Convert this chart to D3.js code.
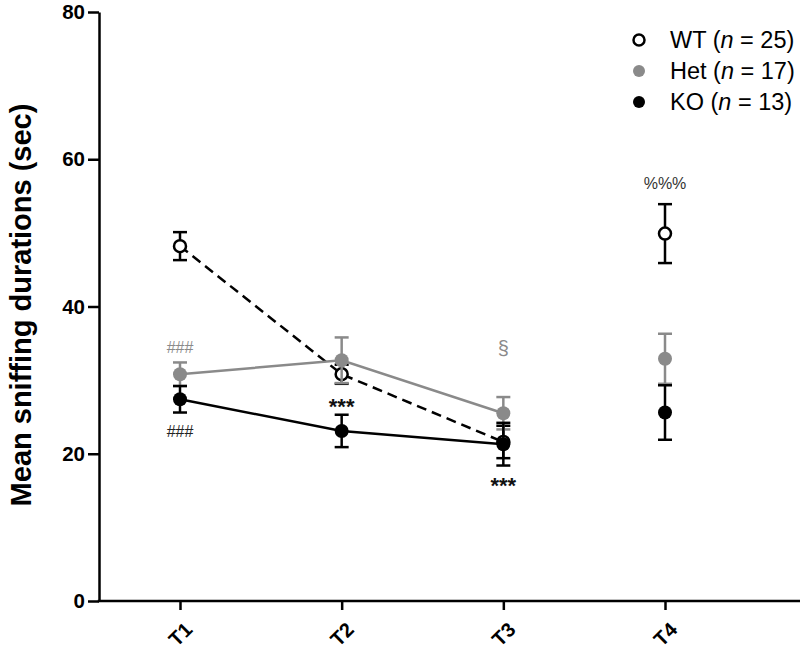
<!DOCTYPE html>
<html><head><meta charset="utf-8">
<script src="https://cdn.jsdelivr.net/npm/d3@7"></script>
<style>body{margin:0;background:#fff}svg{display:block}</style>
</head><body>
<svg id="c" width="800" height="650"></svg>
<script>
const categories = ["T1","T2","T3","T4"];
const yTicks = [0,20,40,60,80];
const wtMean = [48.2, 30.8, 21.6, 49.9];
const wtErr  = [1.9, 1.3, 2.2, 4.0];
const hetMean = [30.8, 32.7, 25.5, 32.9];
const hetErr  = [1.6, 3.1, 2.2, 3.4];
const koMean = [27.4, 23.1, 21.3, 25.6];
const koErr  = [1.8, 2.2, 2.9, 3.7];
const seriesNames = ["WT (n = 25)","Het (n = 17)","KO (n = 13)"];
const annotations = [
  {cat:"T1", value:34.5, text:"###", color:"#8a8a8a", size:16, dy:"0.35em", weight:"normal"},
  {cat:"T1", value:23.1, text:"###", color:"#222", size:16, dy:"0.35em", weight:"normal"},
  {cat:"T2", value:27.2, text:"***", color:"#111", size:22, dy:"0.58em", weight:"bold"},
  {cat:"T3", value:16.4, text:"***", color:"#111", size:22, dy:"0.58em", weight:"bold"},
  {cat:"T3", value:34.3, text:"§", color:"#8a8a8a", size:20, dy:"0.35em", weight:"normal"},
  {cat:"T4", value:56.7, text:"%%%", color:"#333", size:16, dy:"0.35em", weight:"normal"}
];

const FONT = "Liberation Sans, Arial, sans-serif";
const svg = d3.select("#c");
const y = d3.scaleLinear().domain([0,80]).range([601,12]);
const x = d3.scalePoint().domain(categories).range([180,665]);
const axisX0 = 99, axisX1 = 800;

// y axis
const gy = svg.append("g").attr("transform",`translate(${axisX0},0)`)
  .call(d3.axisLeft(y).tickValues(yTicks).tickSize(11).tickPadding(3).tickSizeOuter(0));
gy.select(".domain").attr("stroke","#000").attr("stroke-width",2.5);
gy.selectAll(".tick line").attr("stroke","#000").attr("stroke-width",2.5);
gy.selectAll(".tick text").attr("font-family",FONT)
  .attr("font-size",20.5).attr("font-weight","bold").attr("fill","#000");

// x axis
const gx = svg.append("g").attr("transform",`translate(0,${y(0)})`)
  .call(d3.axisBottom(x).tickSize(9).tickSizeOuter(0));
gx.select(".domain").remove();
svg.append("line").attr("x1",axisX0-1.25).attr("x2",axisX1).attr("y1",y(0)).attr("y2",y(0))
  .attr("stroke","#000").attr("stroke-width",2.5);
gx.selectAll(".tick line").attr("stroke","#000").attr("stroke-width",2.5);
gx.selectAll(".tick text")
  .attr("font-family",FONT).attr("font-size",20).attr("font-weight","bold")
  .attr("fill","#000").attr("text-anchor","end").attr("dy",null).attr("y",0)
  .attr("transform","translate(13,30) rotate(-45)");

// y title
svg.append("text").attr("transform","translate(31,305) rotate(-90)")
  .attr("text-anchor","middle").attr("font-family",FONT)
  .attr("font-size",29).attr("font-weight","bold").attr("fill","#000")
  .text("Mean sniffing durations (sec)");

function drawSeries(means, errs, opt){
  const g = svg.append("g");
  const pts = categories.map((c,i)=>({c, m:means[i], e:errs[i]}));
  const linePts = pts.slice(0,3);
  g.append("path").datum(linePts)
    .attr("d", d3.line().x(d=>x(d.c)).y(d=>y(d.m)))
    .attr("fill","none").attr("stroke",opt.line).attr("stroke-width",2.5)
    .attr("stroke-dasharray",opt.dash||null);
  const eb = g.selectAll(".eb").data(pts).enter().append("g");
  eb.append("line").attr("x1",d=>x(d.c)).attr("x2",d=>x(d.c))
    .attr("y1",d=>y(d.m-d.e)).attr("y2",d=>y(d.m+d.e))
    .attr("stroke",opt.stroke).attr("stroke-width",2.5);
  [1,-1].forEach(s=>{
    eb.append("line").attr("x1",d=>x(d.c)-7).attr("x2",d=>x(d.c)+7)
      .attr("y1",d=>y(d.m+s*d.e)).attr("y2",d=>y(d.m+s*d.e))
      .attr("stroke",opt.stroke).attr("stroke-width",2.5);
  });
  g.selectAll(".pt").data(pts).enter().append("circle")
    .attr("cx",d=>x(d.c)).attr("cy",d=>y(d.m)).attr("r",opt.r)
    .attr("fill",opt.fill).attr("stroke",opt.stroke).attr("stroke-width",opt.sw);
}
drawSeries(wtMean, wtErr, {line:"#000", dash:"10,6", stroke:"#000", fill:"#fff", r:6, sw:2.5});
drawSeries(hetMean, hetErr, {line:"#8a8a8a", stroke:"#8a8a8a", fill:"#8a8a8a", r:7, sw:0});
drawSeries(koMean, koErr, {line:"#000", stroke:"#000", fill:"#000", r:7, sw:0});

// annotations
svg.append("g").selectAll("text").data(annotations).enter().append("text")
  .attr("x",d=>x(d.cat)).attr("y",d=>y(d.value)).attr("dy",d=>d.dy)
  .attr("text-anchor","middle").attr("font-family",FONT).attr("font-weight",d=>d.weight)
  .attr("font-size",d=>d.size).attr("fill",d=>d.color).text(d=>d.text);

// legend
const legend = [
  {fill:"#fff", stroke:"#000", sw:2.5, r:5.5},
  {fill:"#8a8a8a", stroke:"none", sw:0, r:6},
  {fill:"#000", stroke:"none", sw:0, r:6}
];
const lg = svg.append("g");
legend.forEach((l,i)=>{
  const yy = 40 + i*31;
  lg.append("circle").attr("cx",639).attr("cy",yy).attr("r",l.r)
    .attr("fill",l.fill).attr("stroke",l.stroke).attr("stroke-width",l.sw);
  const parts = seriesNames[i].match(/^(.*\()(n)(.*)$/);
  const t = lg.append("text").attr("x",670).attr("y",yy).attr("dy","0.36em")
    .attr("font-family",FONT).attr("font-size",23.5).attr("fill","#000");
  t.append("tspan").text(parts[1]);
  t.append("tspan").attr("font-style","italic").text(parts[2]);
  t.append("tspan").text(parts[3]);
});
</script>
</body></html>
